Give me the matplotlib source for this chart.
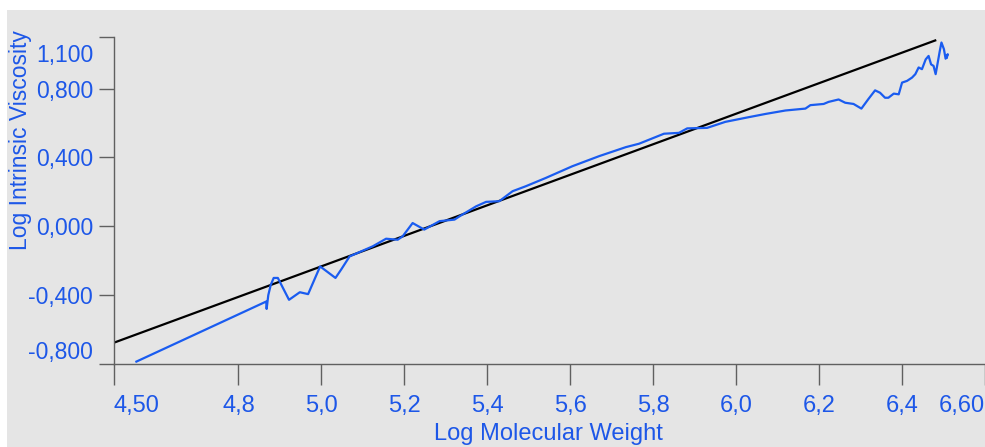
import numpy as np
import matplotlib
matplotlib.use("Agg")
import matplotlib.pyplot as plt
from matplotlib.patches import Rectangle
from matplotlib.transforms import ScaledTranslation

plt.rcParams['font.family'] = ['Liberation Sans', 'DejaVu Sans']

# Measured curve: log molecular weight vs log intrinsic viscosity
log_mw = [4.554, 4.867, 4.868, 4.872, 4.878, 4.885, 4.895, 4.922, 4.948, 4.968,
          4.997, 5.034, 5.048, 5.068, 5.124, 5.156, 5.184, 5.196, 5.220, 5.248,
          5.285, 5.321, 5.333, 5.373, 5.397, 5.429, 5.461, 5.493, 5.541, 5.605,
          5.670, 5.734, 5.766, 5.826, 5.862, 5.882, 5.930, 5.974, 6.030, 6.071,
          6.119, 6.167, 6.179, 6.211, 6.223, 6.247, 6.263, 6.283, 6.302, 6.319,
          6.335, 6.347, 6.359, 6.367, 6.380, 6.392, 6.400, 6.412, 6.424, 6.432,
          6.440, 6.448, 6.457, 6.464, 6.470, 6.476, 6.481, 6.486, 6.491, 6.495,
          6.501, 6.505, 6.510, 6.508]
log_iv = [-0.786, -0.437, -0.480, -0.400, -0.340, -0.300, -0.300, -0.427, -0.383, -0.394,
          -0.233, -0.300, -0.250, -0.175, -0.116, -0.072, -0.078, -0.058, 0.019, -0.019,
          0.030, 0.039, 0.058, 0.116, 0.142, 0.146, 0.204, 0.233, 0.281, 0.349,
          0.408, 0.460, 0.480, 0.538, 0.543, 0.569, 0.572, 0.607, 0.634, 0.653,
          0.673, 0.684, 0.704, 0.711, 0.723, 0.737, 0.718, 0.711, 0.684, 0.740,
          0.790, 0.776, 0.747, 0.747, 0.771, 0.767, 0.835, 0.845, 0.864, 0.884,
          0.923, 0.913, 0.970, 0.990, 0.941, 0.932, 0.884, 0.951, 1.019, 1.068,
          1.029, 0.974, 1.000, 0.980]

# Fitted straight line (end points)
fit_x = [4.50, 6.48]
fit_y = [-0.676, 1.08]

xticks = [4.5, 4.8, 5.0, 5.2, 5.4, 5.6, 5.8, 6.0, 6.2, 6.4, 6.6]
xtick_labels = ['4,50', '4,8', '5,0', '5,2', '5,4', '5,6', '5,8', '6,0', '6,2', '6,4', '6,60']
yticks = [-0.8, -0.4, 0.0, 0.4, 0.8, 1.1]
ytick_labels = ['-0,800', '-0,400', '0,000', '0,400', '0,800', '1,100']

blue = '#1a5cf0'
text_blue = '#1d57e8'
axis_gray = '#606060'

fig = plt.figure(figsize=(9.85, 4.47), dpi=100)
fig.patches.append(Rectangle((7 / 985, 0), 1, 1 - 10 / 447, transform=fig.transFigure,
                             facecolor='#e5e5e5', edgecolor='none', zorder=-10))

ax = fig.add_axes([114 / 985, 83 / 447, 871 / 985, 327 / 447])
ax.set_facecolor('none')

ax.plot(fit_x, fit_y, color='black', lw=1.6, zorder=2)
ax.plot(log_mw, log_iv, color=blue, lw=1.6, zorder=3)

ax.set_xlim(4.5, 6.6)
ax.set_ylim(-0.8, 1.1)

for s in ['top', 'right']:
    ax.spines[s].set_visible(False)
for s in ['left', 'bottom']:
    ax.spines[s].set_color(axis_gray)
    ax.spines[s].set_linewidth(1.0)

ax.set_xticks(xticks)
ax.set_xticklabels(xtick_labels)
ax.set_yticks(yticks)
ax.set_yticklabels(ytick_labels)
ax.set_yticks([-0.8, 1.1], minor=True)

ax.tick_params(axis='x', which='major', direction='out', length=15, width=1,
               color=axis_gray, labelcolor=text_blue, labelsize=17, pad=7)
ax.tick_params(axis='y', which='major', direction='out', length=11, width=1,
               color=axis_gray, labelcolor=text_blue, labelsize=16.5, pad=4)
ax.tick_params(axis='y', which='minor', direction='out', length=15, width=1,
               color=axis_gray)

xl = ax.get_xticklabels()
xl[0].set_ha('left')
xl[-1].set_ha('right')

yl = ax.get_yticklabels()
yl[0].set_transform(yl[0].get_transform() + ScaledTranslation(0, 0.14, fig.dpi_scale_trans))
yl[-1].set_transform(yl[-1].get_transform() + ScaledTranslation(0, -0.16, fig.dpi_scale_trans))

fig.text(21 / 985, 1 - 140 / 447, 'Log Intrinsic Viscosity', rotation=90,
         ha='center', va='center', color=text_blue, fontsize=16.5)
# the reference clips this label slightly; keep it fully inside the figure
fig.text(548 / 985, 2 / 447, 'Log Molecular Weight',
         ha='center', va='bottom', color=text_blue, fontsize=17)

fig.savefig('out.png', dpi=100)
